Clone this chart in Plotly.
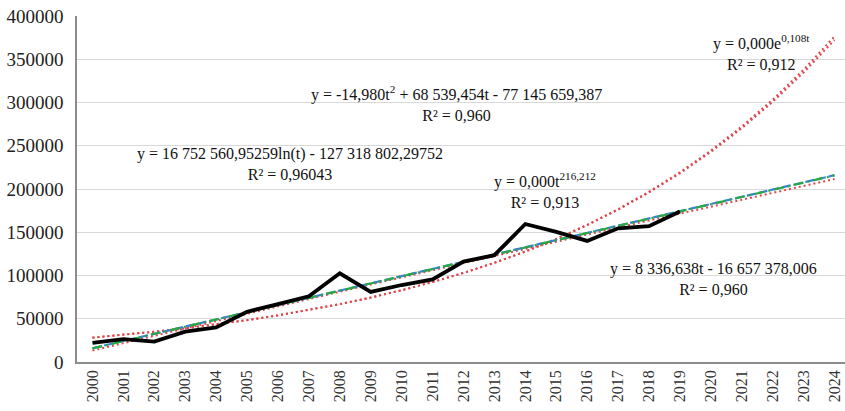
import numpy as np
import plotly.graph_objects as go

# Observed series
years = list(range(2000, 2020))
values = [22000, 26500, 23500, 35000, 40000, 58000, 67000, 76000, 102500, 81000,
          89000, 95500, 116000, 123500, 159500, 150500, 140000, 154500, 157000, 174000]

# Trend horizon (fitted years plus forecast)
trend_years = list(range(2000, 2025))

# Trend coefficients as printed on the chart
lin_coef = [8336.638, -16657378.006]
poly_coef = [-14.980, 68539.454, -77145659.387]
log_coef = [16752560.95259, -127318802.29752]
exp_rate = 0.108
pow_exp = 216.212

y_ticks = [0, 50000, 100000, 150000, 200000, 250000, 300000, 350000, 400000]

t = np.array(trend_years, dtype=float)
obs_t = np.array(years, dtype=float)
obs_y = np.array(values, dtype=float)

lin_y = np.polyval(lin_coef, t)
poly_y = np.polyval(poly_coef, t)
log_y = log_coef[0] * np.log(t) + log_coef[1]
# exponential / power: scale factor from a least-squares fit in log space
ln_a_exp = np.mean(np.log(obs_y) - exp_rate * obs_t)
exp_y = np.exp(ln_a_exp + exp_rate * t)
ln_a_pow = np.mean(np.log(obs_y) - pow_exp * np.log(obs_t))
pow_y = np.exp(ln_a_pow + pow_exp * np.log(t))

RED = "#e0474c"
BLUE = "#3d7fd6"
GREEN = "#27a844"

fig = go.Figure()
fig.add_trace(go.Scatter(x=trend_years, y=pow_y, mode="lines",
                         line=dict(color=RED, width=2, dash="2px,3px")))
fig.add_trace(go.Scatter(x=trend_years, y=exp_y, mode="lines",
                         line=dict(color=RED, width=2, dash="2px,3px")))
fig.add_trace(go.Scatter(x=trend_years, y=poly_y, mode="lines",
                         line=dict(color=RED, width=2, dash="2px,3px")))
fig.add_trace(go.Scatter(x=trend_years, y=lin_y, mode="lines",
                         line=dict(color=BLUE, width=2.2, dash="9px,3px")))
fig.add_trace(go.Scatter(x=trend_years, y=log_y, mode="lines",
                         line=dict(color=GREEN, width=2.2, dash="10px,4px,2px,4px")))
fig.add_trace(go.Scatter(x=years, y=values, mode="lines",
                         line=dict(color="black", width=3.8)))

ann_font = dict(family="Liberation Serif", size=16, color="#111111")
labels = [
    (2021.65, 357800, "y = 0,000e<sup>0,108t</sup><br>R² = 0,912"),
    (2011.79, 299400, "y = -14,980t<sup>2</sup> + 68 539,454t - 77 145 659,387<br>R² = 0,960"),
    (2006.39, 228900, "y = 16 752 560,95259ln(t) - 127 318 802,29752<br>R² = 0,96043"),
    (2014.64, 198800, "y = 0,000t<sup>216,212</sup><br>R² = 0,913"),
    (2020.10, 96000, "y = 8 336,638t - 16 657 378,006<br>R² = 0,960"),
]
for x, y, txt in labels:
    fig.add_annotation(x=x, y=y, text=txt, showarrow=False, align="center",
                       xanchor="center", yanchor="middle", font=ann_font)

fig.update_layout(
    width=845, height=411,
    margin=dict(l=77, r=0, t=16, b=49),
    paper_bgcolor="white", plot_bgcolor="white",
    showlegend=False,
    font=dict(family="Liberation Serif", color="#222222"),
)
fig.update_xaxes(
    range=[1999.5, 2024.34], tickmode="array", tickvals=trend_years,
    ticktext=[str(y) for y in trend_years], tickangle=-90,
    tickfont=dict(family="Liberation Serif", size=16, color="#333333"),
    showgrid=False, showline=True, linecolor="#8c8c8c", linewidth=1.5,
    ticks="", zeroline=False,
)
fig.update_yaxes(
    range=[0, 400000], tickmode="array", tickvals=y_ticks,
    ticktext=[str(v) for v in y_ticks],
    tickfont=dict(family="Liberation Serif", size=19, color="#222222"),
    showgrid=True, gridcolor="#d9d9d9", gridwidth=1,
    showline=True, linecolor="#8c8c8c", linewidth=1.5,
    ticks="", zeroline=False, ticklabelstandoff=8,
)

fig.write_html("out.html")
